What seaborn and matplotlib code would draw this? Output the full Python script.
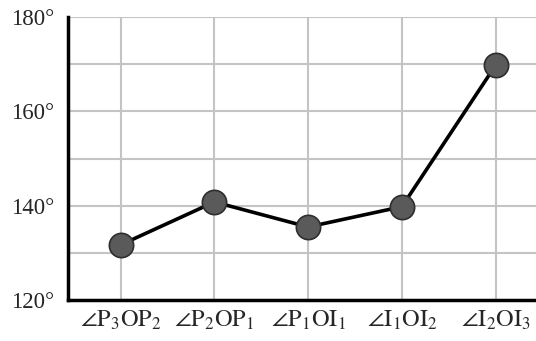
import pandas as pd
import matplotlib
matplotlib.use('Agg')
import matplotlib.pyplot as plt
import seaborn as sns

angles = [r'$\angle\mathrm{P}_3\mathrm{OP}_2$', r'$\angle\mathrm{P}_2\mathrm{OP}_1$',
          r'$\angle\mathrm{P}_1\mathrm{OI}_1$', r'$\angle\mathrm{I}_1\mathrm{OI}_2$',
          r'$\angle\mathrm{I}_2\mathrm{OI}_3$']
values = [131.7, 140.8, 135.5, 139.8, 169.8]
yticks = [120, 140, 160, 180]
ygrid = [130, 150, 170]

sns.set_style('white')
plt.rcParams['font.family'] = ['Liberation Serif', 'DejaVu Serif']
plt.rcParams['mathtext.fontset'] = 'stix'

df = pd.DataFrame({'pos': range(len(angles)), 'angle': values})

fig = plt.figure(figsize=(5.36, 3.41), dpi=100)
ax = fig.add_axes([0.127, 0.12, 0.873, 0.83])

for y in ygrid:
    ax.axhline(y, color='#c4c4c4', lw=1.5, zorder=0)
ax.grid(True, color='#c4c4c4', lw=1.5, zorder=0)
ax.set_axisbelow(True)

sns.lineplot(data=df, x='pos', y='angle', ax=ax, color='black', lw=2.6,
             marker='o', markersize=17.5, markerfacecolor='#5a5a5a',
             markeredgecolor='#2e2e2e', markeredgewidth=1.2, zorder=3)

ax.set_xlim(-0.56, 4.43)
ax.set_ylim(120, 180)
ax.set_xticks(range(len(angles)))
ax.set_xticklabels(angles, fontsize=17.5)
ax.set_yticks(yticks)
ax.set_yticklabels([f'{t}°' for t in yticks], fontsize=16.5)
ax.tick_params(length=0)
ax.tick_params(axis='y', pad=10)
ax.tick_params(axis='x', pad=6)
ax.set_xlabel('')
ax.set_ylabel('')

for s in ['top', 'right']:
    ax.spines[s].set_visible(False)
for s in ['left', 'bottom']:
    ax.spines[s].set_color('black')
    ax.spines[s].set_linewidth(2.5)

fig.savefig('out.png', dpi=100)
